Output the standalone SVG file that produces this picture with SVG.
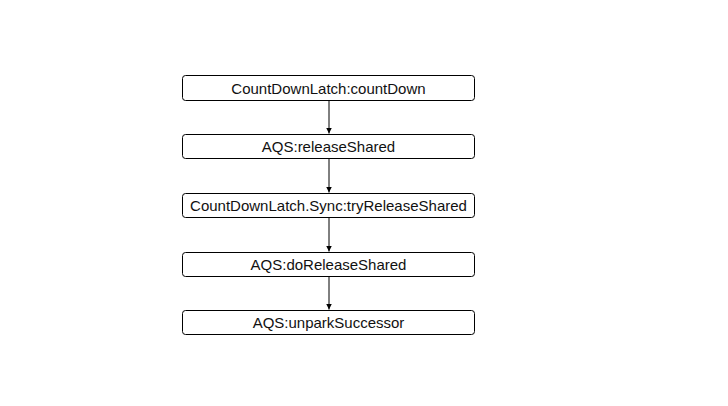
<svg xmlns="http://www.w3.org/2000/svg" width="728" height="406" viewBox="0 0 728 406">
<defs>
<style>
.box{fill:#fff;stroke:#000;stroke-width:1}
.lbl{font-family:"Liberation Sans",Arial,sans-serif;font-size:15px;fill:#111;text-anchor:middle;dominant-baseline:central}
.conn{stroke:#000;stroke-width:1;fill:none}
</style>
<marker id="arr" markerWidth="8" markerHeight="8" refX="6" refY="3" orient="auto" markerUnits="userSpaceOnUse">
<path d="M0,0 L6,3 L0,6 Z" fill="#000"/>
</marker>
</defs>
<rect width="728" height="406" fill="#fff"/>
<g id="connectors">
<line class="conn" x1="329" y1="100.5" x2="329" y2="133.5" marker-end="url(#arr)"/>
<line class="conn" x1="329" y1="158.5" x2="329" y2="192.5" marker-end="url(#arr)"/>
<line class="conn" x1="329" y1="217.5" x2="329" y2="251.5" marker-end="url(#arr)"/>
<line class="conn" x1="329" y1="276.5" x2="329" y2="309.5" marker-end="url(#arr)"/>
</g>
<g id="n1"><rect class="box" x="182.5" y="75.5" width="292" height="25" rx="3"/><text class="lbl" x="328.5" y="88">CountDownLatch:countDown</text></g>
<g id="n2"><rect class="box" x="182.5" y="134.5" width="292" height="24" rx="3"/><text class="lbl" x="328.5" y="146.5">AQS:releaseShared</text></g>
<g id="n3"><rect class="box" x="182.5" y="193.5" width="292" height="24" rx="3"/><text class="lbl" x="328.5" y="205.5">CountDownLatch.Sync:tryReleaseShared</text></g>
<g id="n4"><rect class="box" x="182.5" y="252.5" width="292" height="24" rx="3"/><text class="lbl" x="328.5" y="264.5">AQS:doReleaseShared</text></g>
<g id="n5"><rect class="box" x="182.5" y="310.5" width="292" height="24" rx="3"/><text class="lbl" x="328.5" y="322.5">AQS:unparkSuccessor</text></g>
</svg>
